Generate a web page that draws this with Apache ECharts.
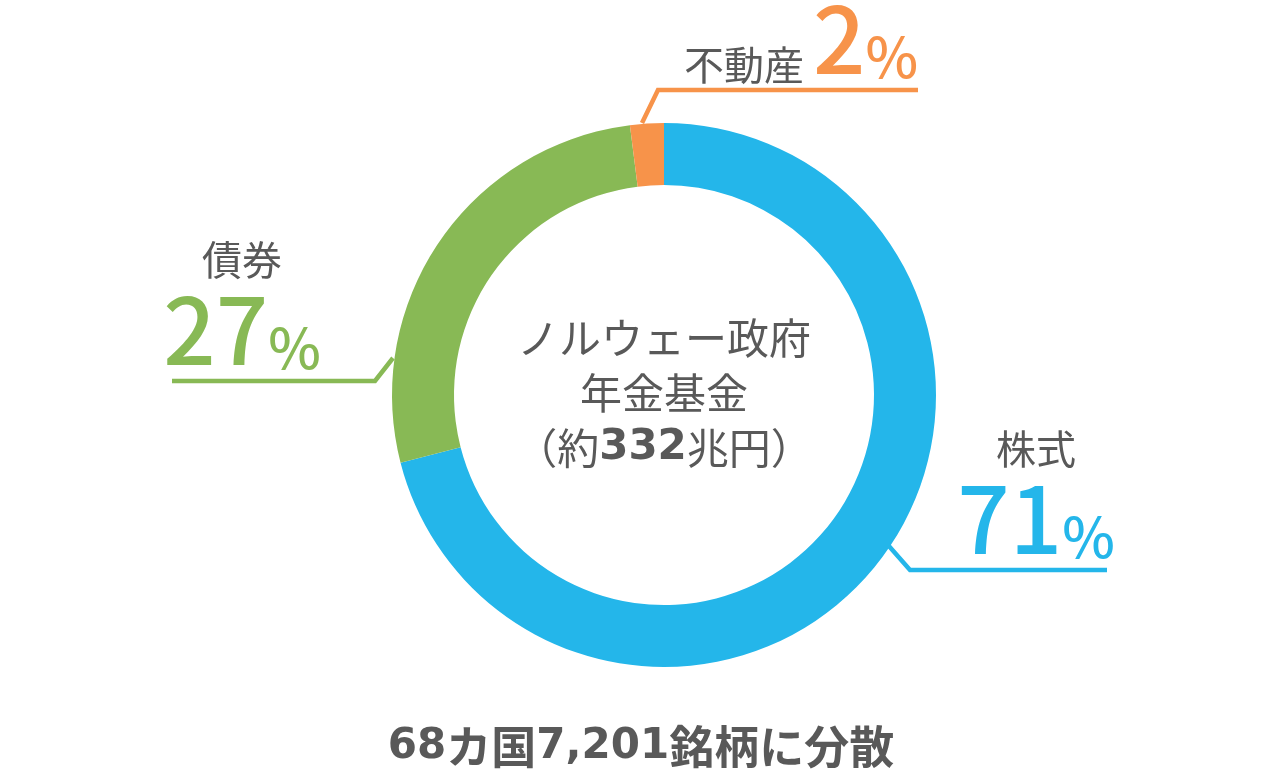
<!DOCTYPE html>
<html lang="ja">

<head>
    <meta charset="UTF-8">
    <title>ノルウェー政府年金基金</title>
    <script src="https://cdn.jsdelivr.net/npm/echarts@6/dist/echarts.min.js"></script>
    <style>
        html,
        body {
            margin: 0;
            padding: 0;
            background: #fff;
        }

        #chart {
            width: 1280px;
            height: 780px;
        }
    </style>
</head>

<body>
    <div id="chart"></div>
    <script>
        // 資産配分（%）
        var assetNames = ['株式', '債券', '不動産'];
        var assetValues = [71, 27, 2];
        var assetColors = ['#24b6ea', '#88b955', '#f7934a'];

        var centerText = ['ノルウェー政府', '年金基金', '（約', '332', '兆円）'];
        var footText = ['68', 'カ国', '7,201', '銘柄に分散'];

        var gray = '#595959';
        var font = '"Noto Sans CJK JP", "Noto Sans", sans-serif';
        var numFont = '"DejaVu Sans", sans-serif';

        // ラベルの位置と引き出し線
        var labelPos = [
            { x: 1036, y: 565, align: 'center', line: [[888, 545], [910, 570], [1107, 570]] },
            { x: 242, y: 376, align: 'center', line: [[393, 358], [375, 381], [172, 381]] },
            { x: 918, y: 85, align: 'right', line: [[642, 123], [658, 90], [918, 90]] }
        ];

        var chart = echarts.init(document.getElementById('chart'));

        var pieData = [];
        for (var i = 0; i < assetNames.length; i++) {
            pieData.push({
                name: assetNames[i],
                value: assetValues[i],
                itemStyle: { color: assetColors[i] },
                label: { color: assetColors[i] },
                labelLine: { lineStyle: { color: assetColors[i] } }
            });
        }

        var option = {
            animation: false,
            title: [{
                text: '{a|' + centerText[0] + '}\n{a|' + centerText[1] + '}\n{a|' + centerText[2] + '}{b|' + centerText[3] + '}{a|' + centerText[4] + '}',
                left: 664,
                top: 311,
                textAlign: 'center',
                padding: 0,
                textStyle: {
                    rich: {
                        a: { fontFamily: font, fontSize: 42, fontWeight: 'normal', color: gray, lineHeight: 55 },
                        b: { fontFamily: numFont, fontSize: 42, fontWeight: 'bold', color: gray, lineHeight: 55 }
                    }
                }
            }, {
                text: '{d|' + footText[0] + '}{c|' + footText[1] + '}{d|' + footText[2] + '}{c|' + footText[3] + '}',
                left: 641,
                top: 722,
                textAlign: 'center',
                padding: 0,
                textStyle: {
                    rich: {
                        c: { fontFamily: font, fontSize: 45, fontWeight: 'bold', color: gray, lineHeight: 50 },
                        d: { fontFamily: numFont, fontSize: 42, fontWeight: 'bold', color: gray, lineHeight: 50 }
                    }
                }
            }],
            series: [{
                type: 'pie',
                center: [664, 395],
                radius: [210, 272],
                startAngle: 90,
                clockwise: true,
                avoidLabelOverlap: false,
                emphasis: { disabled: true },
                label: {
                    show: true,
                    position: 'outside',
                    fontFamily: font,
                    formatter: function (p) {
                        if (p.dataIndex === 2) {
                            return '{name|' + p.name + ' }{num|' + p.value + '}{pct|%}';
                        }
                        return '{name|' + p.name + '}\n{num|' + p.value + '}{pct|%}';
                    },
                    rich: {
                        name: { fontFamily: font, fontSize: 40, lineHeight: 46, color: gray, verticalAlign: 'bottom' },
                        num: { fontFamily: font, fontSize: 92, lineHeight: 96, fontWeight: 500, verticalAlign: 'bottom' },
                        pct: { fontFamily: font, fontSize: 56, lineHeight: 68, fontWeight: 500, verticalAlign: 'bottom' }
                    }
                },
                labelLine: {
                    show: true,
                    length: 20,
                    length2: 100,
                    lineStyle: { width: 4.5 }
                },
                labelLayout: function (p) {
                    var L = labelPos[p.dataIndex];
                    return {
                        x: L.x,
                        y: L.y,
                        align: L.align,
                        verticalAlign: 'bottom',
                        labelLinePoints: L.line
                    };
                },
                data: pieData
            }]
        };

        chart.setOption(option);
    </script>
</body>

</html>
